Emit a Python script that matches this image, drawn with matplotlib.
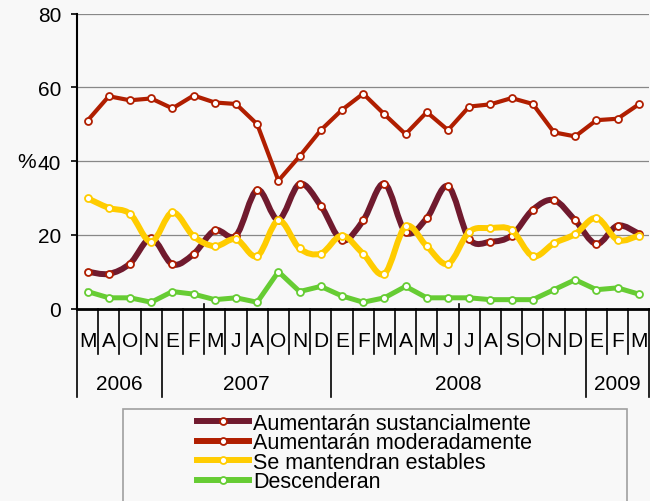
import matplotlib
matplotlib.use("Agg")
import matplotlib.pyplot as plt
from matplotlib.path import Path
from matplotlib.patches import PathPatch, Rectangle
from matplotlib.lines import Line2D
import numpy as np

plt.rcParams["font.family"] = ["Liberation Sans", "DejaVu Sans"]

months = ["M", "A", "O", "N",
          "E", "F", "M", "J", "A", "O", "N", "D",
          "E", "F", "M", "A", "M", "J", "J", "A", "S", "O", "N", "D",
          "E", "F", "M"]
years = ["2006", "2007", "2008", "2009"]
year_counts = [4, 8, 12, 3]

sustancial = [10.0, 9.4, 12.2, 19.0, 12.0, 14.8, 21.2, 19.8, 32.2, 24.1,
              33.8, 27.9, 18.5, 23.9, 33.9, 20.7, 24.5, 33.2, 18.9, 18.1,
              19.8, 26.8, 29.4, 23.9, 17.5, 22.5, 20.3]
moderada = [51.0, 57.6, 56.5, 57.0, 54.3, 57.8, 55.9, 55.5, 50.0, 34.7,
            41.3, 48.4, 53.9, 58.3, 52.7, 47.3, 53.3, 48.4, 54.8, 55.4,
            57.1, 55.5, 47.8, 46.7, 51.1, 51.5, 55.4]
estables = [29.9, 27.3, 25.7, 18.1, 26.1, 19.6, 16.9, 18.8, 14.2, 23.9,
            16.3, 14.9, 19.8, 14.8, 9.4, 22.3, 16.9, 12.1, 20.8, 21.8,
            21.3, 14.2, 17.7, 20.2, 24.6, 18.6, 19.8]
descienden = [4.6, 2.9, 2.9, 1.7, 4.6, 3.9, 2.4, 2.9, 1.7, 10.0,
              4.6, 6.0, 3.4, 1.7, 2.9, 6.0, 2.9, 2.9, 2.9, 2.4,
              2.4, 2.4, 5.1, 7.8, 5.1, 5.6, 3.9]

labels = ["Aumentarán sustancialmente", "Aumentarán moderadamente",
          "Se mantendran estables", "Descenderan"]
yticks = [0, 20, 40, 60, 80]

C_MAROON = "#701A2E"
C_RED = "#B01E00"
C_YELLOW = "#FFCC00"
C_GREEN = "#66CC33"
BG = "#F8F8F8"

FS = 15
FS_LEG = 15.5


def smooth_path(xs, ys):
    """Excel-like smoothed line: cubic Bezier through the points."""
    p = np.column_stack([xs, ys]).astype(float)
    n = len(p)
    verts = [p[0]]
    codes = [Path.MOVETO]
    for i in range(n - 1):
        p0 = p[i - 1] if i > 0 else p[i]
        p1 = p[i]
        p2 = p[i + 1]
        p3 = p[i + 2] if i + 2 < n else p[i + 1]
        c1 = p1 + (p2 - p0) / 6.0
        c2 = p2 - (p3 - p1) / 6.0
        verts += [c1, c2, p2]
        codes += [Path.CURVE4] * 3
    return Path(verts, codes)


fig = plt.figure(figsize=(6.5, 5.02), dpi=100, facecolor=BG)
ax = fig.add_axes([77 / 650, 192.5 / 502, 572.4 / 650, 294.8 / 502])
ax.set_facecolor(BG)

n = len(months)
x = np.arange(n) + 0.5

# series
lw_s = 4.3
ax.add_patch(PathPatch(smooth_path(x, sustancial), fill=False, edgecolor=C_MAROON,
                       lw=lw_s, capstyle="round", joinstyle="round", zorder=3))
ax.plot(x, sustancial, ls="none", marker="o", ms=5, mfc="white", mec=C_RED, mew=1.3, zorder=3.1)

ax.plot(x, moderada, color=C_RED, lw=3.0, marker="o", ms=5, mfc="white", mec=C_RED,
        mew=1.3, solid_joinstyle="round", zorder=3.2)

ax.add_patch(PathPatch(smooth_path(x, estables), fill=False, edgecolor=C_YELLOW,
                       lw=lw_s, capstyle="round", joinstyle="round", zorder=3.3))
ax.plot(x, estables, ls="none", marker="o", ms=5, mfc="white", mec=C_YELLOW, mew=1.3, zorder=3.4)

ax.plot(x, descienden, color=C_GREEN, lw=3.6, marker="o", ms=5, mfc="white", mec=C_GREEN,
        mew=1.3, solid_joinstyle="round", zorder=3.5)

ax.set_xlim(0, n)
ax.set_ylim(0, 80)
ax.set_yticks(yticks)
ax.yaxis.grid(True, color="#888888", lw=0.9)
ax.set_axisbelow(True)
ax.tick_params(axis="y", direction="out", length=4.5, width=1.2, pad=7, labelsize=FS)
ax.set_xticks([])
for s in ["top", "right"]:
    ax.spines[s].set_visible(False)
ax.spines["left"].set_linewidth(1.5)
ax.spines["bottom"].set_linewidth(2)

ax.set_ylabel("%", rotation=0, fontsize=FS, ha="right", va="center")
ax.yaxis.set_label_coords(-0.072, 0.5)

# category axis: month separators, month labels, year separators & labels
xt = ax.get_xaxis_transform()
year_bounds = list(np.cumsum([0] + year_counts))
for k in range(n + 1):
    bottom = -0.30 if k in year_bounds else -0.154
    ax.plot([k, k], [0, bottom], transform=xt, color="black", lw=1.2, clip_on=False)
for k in (6, 18):
    ax.plot([k, k], [0, 0.014], transform=xt, color="black", lw=1.2, clip_on=False)
for i, m in enumerate(months):
    ax.text(i + 0.5, -0.108, m, transform=xt, ha="center", va="center", fontsize=FS)
for j, yl in enumerate(years):
    ax.text((year_bounds[j] + year_bounds[j + 1]) / 2, -0.254, yl, transform=xt,
            ha="center", va="center", fontsize=FS)

# legend
handles = [
    Line2D([], [], color=C_MAROON, lw=lw_s, marker="o", ms=5, mfc="white", mec=C_RED, mew=1.3),
    Line2D([], [], color=C_RED, lw=lw_s, marker="o", ms=5, mfc="white", mec=C_RED, mew=1.3),
    Line2D([], [], color=C_YELLOW, lw=lw_s, marker="o", ms=5, mfc="white", mec=C_YELLOW, mew=1.3),
    Line2D([], [], color=C_GREEN, lw=lw_s, marker="o", ms=5, mfc="white", mec=C_GREEN, mew=1.3),
]
leg = fig.legend(handles, labels, loc="upper left", bbox_to_anchor=(197 / 650, (502 - 414) / 502),
                 frameon=False, fontsize=FS_LEG, handlelength=2.4, handletextpad=0.2,
                 labelspacing=-0.07, borderpad=0, borderaxespad=0, markerscale=1)
fig.patches.append(Rectangle((123 / 650, -0.1), (627 - 123) / 650, 0.1 + (502 - 410) / 502,
                             transform=fig.transFigure, fill=False, edgecolor="#A0A0A0", lw=1.2))

fig.savefig("out.png", dpi=100, facecolor=BG)
